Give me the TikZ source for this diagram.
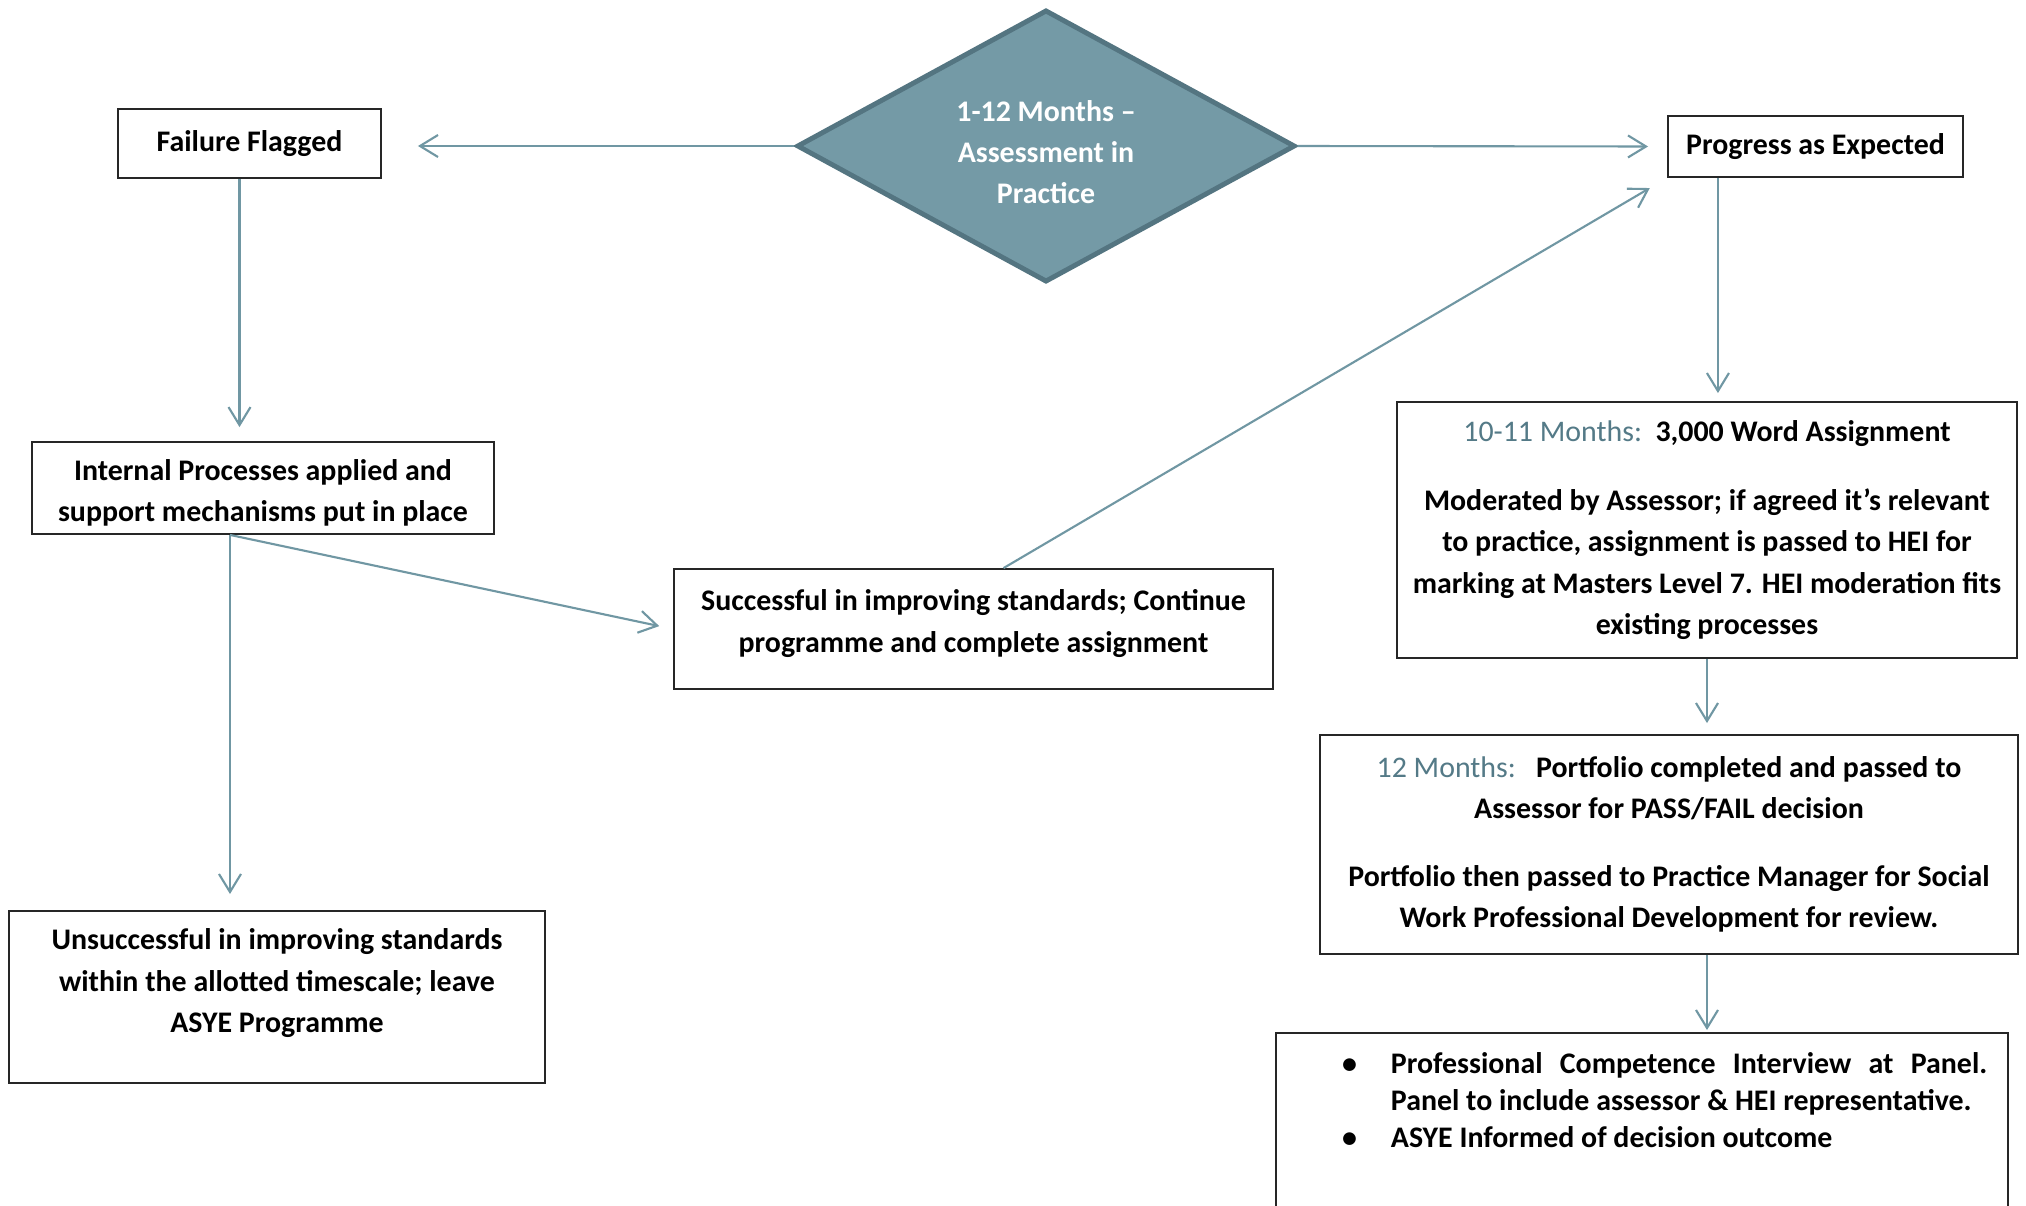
\documentclass[tikz,border=0pt]{standalone}
\usepackage{fontspec}
\setmainfont{Carlito}
\usetikzlibrary{shapes.geometric,arrows.meta}

\definecolor{dfill}{RGB}{116,154,166}
\definecolor{dline}{RGB}{84,117,129}
\definecolor{arrcol}{RGB}{112,151,163}
\definecolor{mcol}{RGB}{84,122,135}
\newcommand{\mths}[1]{{\mdseries\color{mcol}#1}}

\begin{document}
\begin{tikzpicture}[x=0.01cm, y=-0.01cm,
  box/.style={draw=black!85, line width=0.5pt, inner sep=0pt, align=center,
    font=\fontsize{8.5}{11.7}\selectfont\bfseries},
  arr/.style={draw=arrcol, line width=0.6pt, -{Straight Barb[length=0.18cm,width=0.22cm]}}]
\useasboundingbox (0,0) rectangle (2026,1205);
\fill[white] (0,0) rectangle (2026,1205);
\clip (0,0) rectangle (2026,1205);

\node[diamond, draw=dline, line width=1.4pt, fill=dfill, text=white, shape aspect=1.83,
  minimum width=4.98cm, minimum height=2.72cm, inner sep=0pt, align=center,
  font=\fontsize{8.5}{11.7}\selectfont\bfseries](dia) at (1046,146) {\\[-0.08cm]1-12 Months --\\Assessment in\\Practice};

\node[box, minimum width=2.63cm, minimum height=0.69cm](fail) at (249.5,143.5) {Failure Flagged};
\node[box, minimum width=4.62cm, minimum height=0.92cm](int) at (263,488) {\rule{0pt}{0.31cm}Internal Processes applied and\\support mechanisms put in place};
\node[box, anchor=north west](unsucc) at (8,910) {\parbox[c][1.72cm][t]{5.36cm}{\centering\vspace*{0.18cm}Unsuccessful in improving standards\\within the allotted timescale; leave\\ASYE Programme}};
\node[box, minimum width=5.99cm, minimum height=1.20cm](succ) at (973.5,629) {Successful in improving standards; Continue\\programme and complete assignment\rule[-0.16cm]{0pt}{0pt}};
\node[box, minimum width=2.95cm, minimum height=0.61cm](prog) at (1815.5,146.5) {Progress as Expected};
\node[box, minimum width=6.20cm, minimum height=2.56cm](ten) at (1707,530) {\mths{10-11 Months:}\ \ 3,000 Word Assignment\\[0.28cm]Moderated by Assessor; if agreed it's relevant\\to practice, assignment is passed to HEI for\\marking at Masters Level 7. HEI moderation fits\\existing processes};
\node[box, minimum width=6.98cm, minimum height=2.19cm](twelve) at (1669,844.5) {\mths{12 Months:}\ \ \ Portfolio completed and passed to\\Assessor for PASS/FAIL decision\\[0.27cm]Portfolio then passed to Practice Manager for Social\\Work Professional Development for review.};
\node[box, anchor=north west, align=left](panel) at (1275,1032) {\parbox[c][2.6cm][t]{7.32cm}{\fontsize{8.5}{10.5}\selectfont
  \noindent\rule{\hsize}{0pt}\par\vspace*{0.04cm}
  \begin{list}{\textbullet}{\setlength{\leftmargin}{1.15cm}\setlength{\rightmargin}{0.21cm}%
    \setlength{\labelsep}{0.34cm}\setlength{\labelwidth}{0.5cm}\setlength{\topsep}{0pt}%
    \setlength{\partopsep}{0pt}\setlength{\itemsep}{0pt}\setlength{\parsep}{0pt}}
  \item Professional Competence Interview at Panel.\linebreak Panel to include assessor \& HEI representative.
  \item ASYE Informed of decision outcome
  \end{list}}};

\draw[arr, shorten >=0.36cm] (dia.west) -- (dia.west -| fail.east);
\draw[arr, shorten >=0.19cm] (dia.east) -- (prog.west);
\draw[arr, shorten >=0.14cm] ([xshift=-0.1cm]fail.south) -- ([xshift=-0.1cm]fail.south |- int.north);
\draw[arr, shorten >=0.16cm] ([xshift=-0.33cm]int.south) -- ([xshift=-0.33cm]int.south |- unsucc.north);
\draw[arr, shorten >=0.14cm] ([xshift=-0.33cm]int.south) -- (succ.west);
\draw[arr, shorten >=0.2cm] ([xshift=0.3cm]succ.north) -- (prog.south west);
\draw[arr, shorten >=0.08cm] ([xshift=-0.975cm]prog.south) -- ([xshift=-0.975cm]prog.south |- ten.north);
\draw[arr, shorten >=0.11cm] (ten.south) -- (ten.south |- twelve.north);
\draw[arr, shorten >=0.02cm] (twelve.south -| ten.south) -- (panel.north -| ten.south);
\end{tikzpicture}
\end{document}
